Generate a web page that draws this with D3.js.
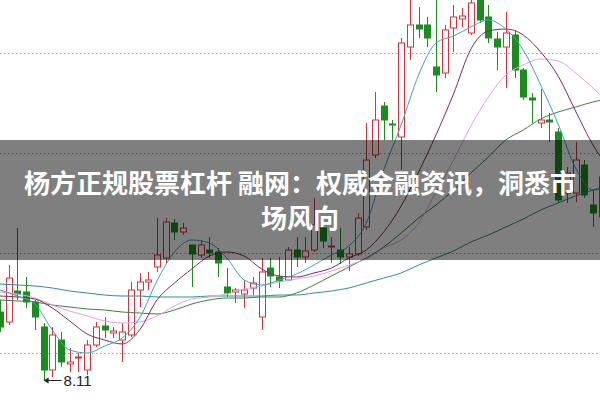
<!DOCTYPE html>
<html><head><meta charset="utf-8">
<script src="https://cdn.jsdelivr.net/npm/d3@7"></script>
<style>html,body{margin:0;padding:0;background:#fff;overflow:hidden}svg{display:block}</style>
</head><body>
<svg id="c" width="600" height="400"></svg>
<script>
// ---- data ----
const candleOpen  = [8.455,8.405,8.56,8.555,8.505,8.38,8.165,8.315,8.195,8.225,8.165,8.29,8.385,8.35,8.315,8.34,8.565,8.605,8.68,8.725,8.90,8.855,8.79,8.74,8.765,8.755,8.58,8.555,8.545,8.575,8.43,8.675,8.63,8.615,8.765,8.73,8.765,8.875,8.78,8.765,8.73,8.745,8.88,9.24,9.485,9.395,9.33,9.78,9.89,9.89,9.68,9.65,9.875,9.92,9.85,10.04,9.93,9.82,9.78,9.84,9.665,9.525,9.40,9.415,9.355,9.05,9.05,9.19,8.99,8.93];
const candleHigh  = [8.515,8.69,8.875,8.63,8.515,8.40,8.38,8.355,8.275,8.25,8.315,8.405,8.43,8.38,8.40,8.605,8.65,8.655,8.925,8.925,8.92,8.90,8.79,8.815,8.83,8.775,8.675,8.575,8.615,8.63,8.725,8.725,8.73,8.78,8.83,8.83,9.025,8.925,8.83,8.875,8.78,8.95,9.40,9.555,9.505,9.415,9.825,10.04,9.98,9.93,10.04,9.89,9.99,9.975,10.04,10.065,9.99,9.855,9.955,9.865,9.675,9.55,9.57,9.45,9.375,9.18,9.305,9.215,9.065,9.165];
const candleLow   = [8.355,8.39,8.515,8.475,8.365,8.11,8.13,8.18,8.155,8.155,8.14,8.28,8.325,8.325,8.205,8.33,8.48,8.565,8.655,8.70,8.815,8.84,8.58,8.725,8.725,8.63,8.53,8.50,8.475,8.54,8.365,8.58,8.575,8.61,8.68,8.70,8.755,8.775,8.70,8.695,8.66,8.735,8.865,9.225,9.315,9.315,9.165,9.715,9.825,9.78,9.555,9.625,9.755,9.88,9.84,9.90,9.80,9.665,9.575,9.625,9.515,9.40,9.375,9.305,9.00,9.00,9.005,9.025,8.88,8.915];
const candleClose = [8.38,8.625,8.545,8.505,8.43,8.165,8.34,8.205,8.205,8.23,8.29,8.38,8.365,8.36,8.355,8.565,8.605,8.615,8.74,8.905,8.855,8.875,8.745,8.79,8.75,8.70,8.55,8.565,8.565,8.60,8.655,8.635,8.61,8.765,8.73,8.76,8.89,8.81,8.785,8.73,8.745,8.925,9.215,9.415,9.415,9.39,9.80,9.89,9.87,9.825,9.64,9.865,9.93,9.935,10.00,9.915,9.825,9.78,9.85,9.665,9.53,9.515,9.415,9.405,9.015,9.15,9.215,9.04,8.95,9.13];

const maIdx = [0,2,4,6,8,10,12,14,16,18,20,22,24,26,28,30,32,34,36,38,40,42,44,46,48,50,52,54,56,58,60,62,64,66,68,70];
const ma5  = [8.565,8.535,8.495,8.365,8.265,8.25,8.285,8.325,8.425,8.61,8.755,8.815,8.80,8.725,8.615,8.59,8.615,8.645,8.69,8.74,8.785,8.90,9.165,9.39,9.64,9.80,9.835,9.88,9.915,9.87,9.765,9.59,9.395,9.175,9.065,9.085];
const ma10 = [8.535,8.53,8.52,8.475,8.41,8.345,8.315,8.295,8.365,8.515,8.60,8.67,8.735,8.755,8.735,8.67,8.635,8.63,8.65,8.675,8.725,8.765,8.855,8.985,9.155,9.34,9.545,9.77,9.86,9.87,9.84,9.755,9.635,9.46,9.29,9.165];
const ma20 = [8.555,8.545,8.525,8.49,8.46,8.435,8.41,8.40,8.405,8.435,8.485,8.52,8.53,8.545,8.57,8.585,8.605,8.62,8.635,8.66,8.69,8.72,8.775,8.815,8.90,9.055,9.215,9.385,9.53,9.64,9.69,9.72,9.71,9.65,9.575,9.49];
const ma30 = [8.515,8.51,8.505,8.49,8.48,8.47,8.465,8.455,8.45,8.445,8.465,8.495,8.515,8.525,8.525,8.53,8.53,8.55,8.59,8.635,8.68,8.725,8.78,8.85,8.925,8.99,9.065,9.15,9.23,9.315,9.365,9.42,9.455,9.48,9.505,9.525];
const ma60 = [8.595,8.59,8.585,8.575,8.56,8.55,8.54,8.535,8.535,8.53,8.53,8.53,8.535,8.535,8.535,8.535,8.54,8.54,8.55,8.56,8.575,8.60,8.625,8.65,8.69,8.725,8.76,8.805,8.84,8.88,8.92,8.965,9.00,9.035,9.065,9.085];

const gridValues = [8.25, 8.75, 9.25, 9.75];
const lowIndex = 5;
const lowLabel = "8.11";
const titleLines = ["杨方正规股票杠杆 融网：权威金融资讯，洞悉市", "场风向"];

// ---- scales ----
const W = 600, H = 400;
const svg = d3.select("#c");
const x = d3.scaleLinear().domain([0, 68]).range([0, 593]);
const y = d3.scaleLinear().domain([8, 10]).range([403, 3]);

const RED = "#d2353d", GREEN = "#1d8c1f";

// grid
svg.append("g").selectAll("line").data(gridValues).join("line")
  .attr("x1", 0).attr("x2", W)
  .attr("y1", d => Math.round(y(d)) + 0.5).attr("y2", d => Math.round(y(d)) + 0.5)
  .attr("stroke", "#9a9a9a").attr("stroke-width", 1).attr("stroke-dasharray", "1.5,2.5");

// candles
const candles = candleOpen.map((o, i) => ({i, o, h: candleHigh[i], l: candleLow[i], c: candleClose[i]}));
const bw = 6;
const cg = svg.append("g");
candles.forEach(d => {
  const up = d.c >= d.o;
  const col = up ? RED : GREEN;
  const cx = Math.round(x(d.i)) + 0.5;
  const top = y(Math.max(d.o, d.c)), bot = y(Math.min(d.o, d.c));
  cg.append("line").attr("x1", cx).attr("x2", cx)
    .attr("y1", y(d.h)).attr("y2", top).attr("stroke", col);
  cg.append("line").attr("x1", cx).attr("x2", cx)
    .attr("y1", bot).attr("y2", y(d.l)).attr("stroke", col);
  const bh = Math.max(1, bot - top);
  cg.append("rect").attr("x", cx - bw/2).attr("y", top).attr("width", bw).attr("height", bh)
    .attr("fill", up ? "#fff" : GREEN).attr("stroke", col).attr("stroke-width", 1);
});

// moving averages
const maSeries = [
  {v: ma60, c: "#2f8f90"},
  {v: ma30, c: "#3f7d45"},
  {v: ma20, c: "#e4a0e4"},
  {v: ma10, c: "#7a2d5c"},
  {v: ma5,  c: "#3fa2bb"}
];
const lineGen = d3.line().x(d => x(d[0])).y(d => y(d[1])).curve(d3.curveMonotoneX);
svg.append("g").selectAll("path").data(maSeries).join("path")
  .attr("d", s => lineGen(maIdx.map((k, j) => [k, s.v[j]])))
  .attr("fill", "none").attr("stroke", s => s.c).attr("stroke-width", 1);

// low marker
const lx = x(lowIndex), ly = y(candleLow[lowIndex]);
const ag = svg.append("g");
ag.append("line").attr("x1", lx + 1).attr("x2", lx + 18).attr("y1", ly - 0.5).attr("y2", ly - 0.5)
  .attr("stroke", "#222").attr("stroke-width", 1);
ag.append("path").attr("d", `M${lx},${ly - 0.5} l5,-3 l0,6 z`).attr("fill", "#222");
ag.append("text").attr("x", lx + 20).attr("y", ly + 5)
  .attr("font-family", "Liberation Sans, Arial, sans-serif").attr("font-size", 15)
  .attr("fill", "#222").text(lowLabel);

// banner overlay
svg.append("rect").attr("x", 0).attr("y", 140).attr("width", W).attr("height", 120)
  .attr("fill", "rgba(0,0,0,0.5)");
svg.append("g").selectAll("text").data(titleLines).join("text")
  .attr("x", 300).attr("y", (d, i) => 193 + i * 35)
  .attr("text-anchor", "middle")
  .attr("font-family", "Noto Sans CJK SC, sans-serif").attr("font-weight", "bold")
  .attr("font-size", 26).attr("fill", "#fff").text(d => d);
</script>
</body></html>
